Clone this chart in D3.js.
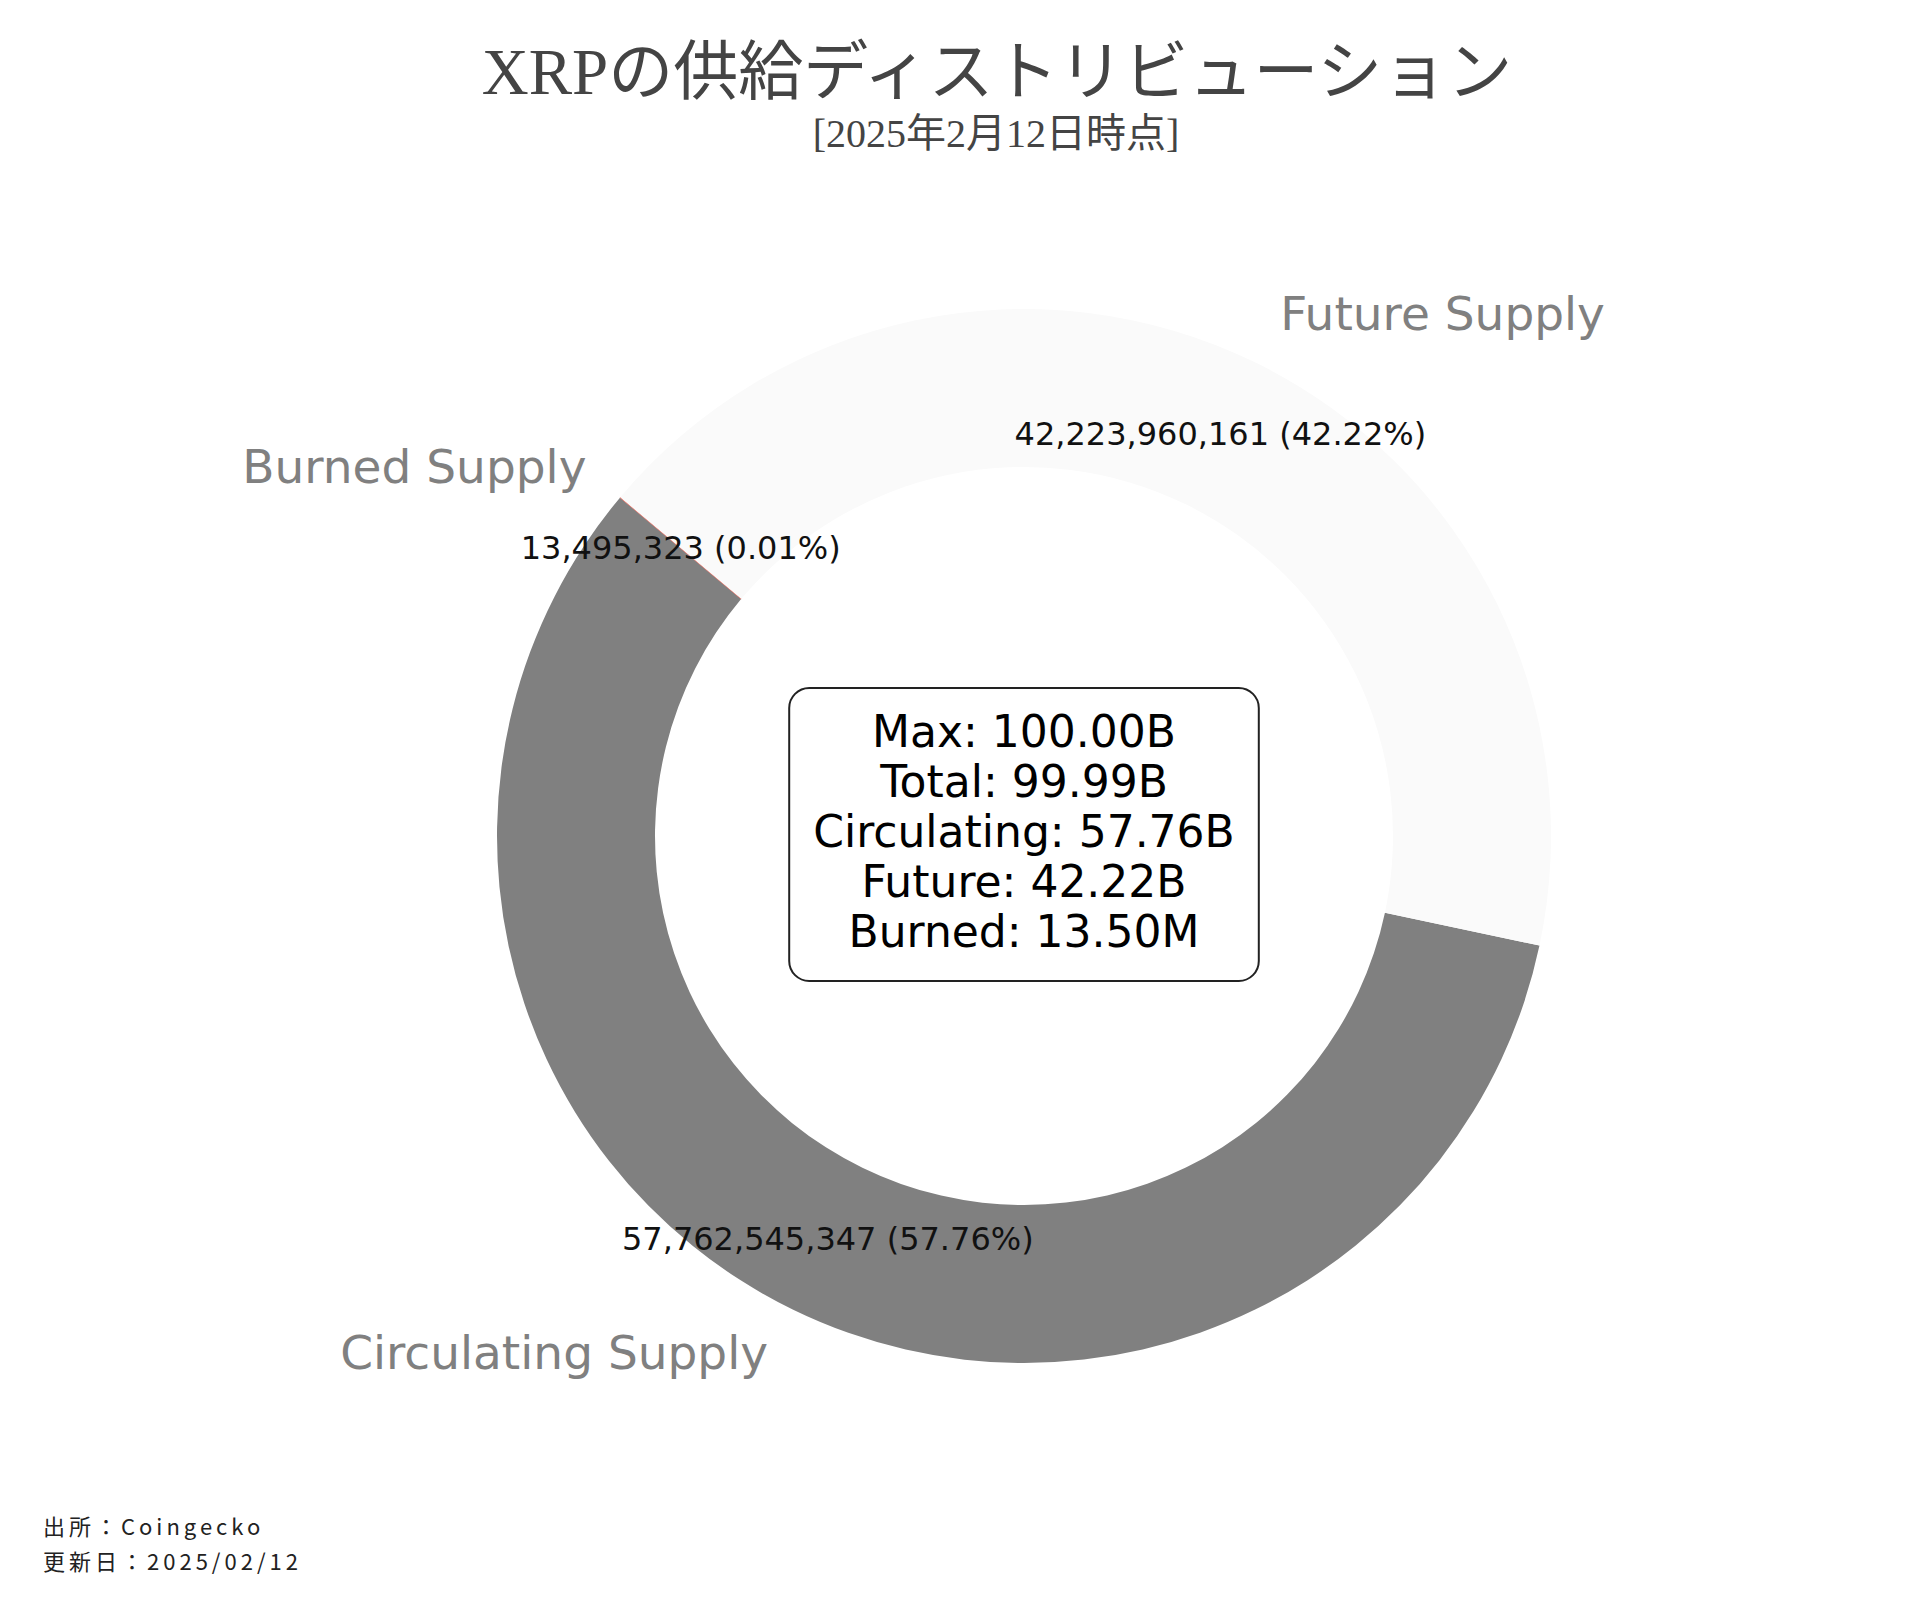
<!DOCTYPE html>
<html>
<head>
<meta charset="utf-8">
<script src="https://cdn.jsdelivr.net/npm/d3@7"></script>
<style>
  body { margin: 0; background: #fff; }
</style>
</head>
<body>
<div id="chart"></div>
<script>
// data
const categories = ["Circulating Supply", "Burned Supply", "Future Supply"];
const supplyValues = [57762545347, 13495323, 42223960161];
const summaryNames = ["Max", "Total", "Circulating", "Future", "Burned"];
const summaryValues = [100000000000, 99986505508, 57762545347, 42223960161, 13495323];
const titleText = "XRPの供給ディストリビューション";
const subtitleText = "[2025年2月12日時点]";
const footerLines = ["出所：Coingecko", "更新日：2025/02/12"];

// layout
const width = 1920, height = 1600;
const cx = 1024, cy = 836;
const outerR = 527, innerR = 369, nameR = 553;
const startDeg = 102;
const sansFont = "'DejaVu Sans', sans-serif";

let svg = d3.select("#chart")
    .append("svg")
    .attr("width", width)
    .attr("height", height)
    .style("background", "#fff");

let color = d3.scaleOrdinal()
    .domain(categories)
    .range(["#808080", "#e8675a", "#fafafa"]);

let data = categories.map((c, i) => ({ name: c, value: supplyValues[i] }));
let sum = d3.sum(supplyValues);

let pie = d3.pie()
    .sort(null)
    .value(d => d.value)
    .startAngle(startDeg * Math.PI / 180)
    .endAngle(startDeg * Math.PI / 180 + 2 * Math.PI);

let arc = d3.arc().innerRadius(innerR).outerRadius(outerR);

let arcs = pie(data);

let g = svg.append("g").attr("transform", "translate(" + cx + "," + cy + ")");

// slices
g.selectAll(".slice")
    .data(arcs)
    .enter()
    .append("path")
    .attr("class", "slice")
    .attr("d", arc)
    .attr("fill", d => color(d.data.name))
    .attr("stroke", d => d.data.name === "Burned Supply" ? color(d.data.name) : "none")
    .attr("stroke-width", 0.4);

// value labels on the ring
let fmtInt = d3.format(",");
g.selectAll(".vlabel")
    .data(arcs)
    .enter()
    .append("text")
    .attr("class", "vlabel")
    .attr("x", d => arc.centroid(d)[0])
    .attr("y", d => arc.centroid(d)[1])
    .attr("dy", "0.35em")
    .attr("text-anchor", "middle")
    .style("font-family", sansFont)
    .style("font-size", "32px")
    .style("fill", "#111")
    .text(d => fmtInt(d.data.value) + " (" + (d.data.value / sum * 100).toFixed(2) + "%)");

// category names outside (plotly style outside text placement)
g.selectAll(".nlabel")
    .data(arcs)
    .enter()
    .append("text")
    .attr("class", "nlabel")
    .attr("text-anchor", "middle")
    .attr("dy", "0.28em")
    .style("font-family", sansFont)
    .style("font-size", "47px")
    .style("fill", "#808080")
    .text(d => d.data.name)
    .each(function (d) {
        let mid = (d.startAngle + d.endAngle) / 2;
        let x = nameR * Math.sin(mid);
        let y = -nameR * Math.cos(mid);
        let bb = this.getBBox();
        let dx = bb.width / 2, dy = bb.height / 2;
        if (x < 0) dx *= -1;
        if (y < 0) dy *= -1;
        let ox = dx + Math.abs(dy) * (dx > 0 ? 1 : -1) / 2;
        let oy = dy / (1 + x * x / (y * y));
        d3.select(this).attr("x", x + ox).attr("y", y + oy);
    });

// summary box in the hole
let fmtShort = v => v >= 1e9 ? (v / 1e9).toFixed(2) + "B" : (v / 1e6).toFixed(2) + "M";
let box = g.append("g");
let boxRect = box.append("rect");
let boxText = box.append("text")
    .attr("text-anchor", "middle")
    .style("font-family", sansFont)
    .style("font-size", "44px")
    .style("fill", "#000");
boxText.selectAll("tspan")
    .data(summaryNames)
    .enter()
    .append("tspan")
    .attr("x", 0)
    .attr("y", (d, i) => (i - 2) * 50 + 11)
    .text((d, i) => d + ": " + fmtShort(summaryValues[i]));

let tb = boxText.node().getBBox();
boxRect
    .attr("x", tb.x - 24)
    .attr("y", tb.y - 18)
    .attr("width", tb.width + 48)
    .attr("height", tb.height + 42)
    .attr("rx", 20)
    .attr("fill", "#fff")
    .attr("stroke", "#222")
    .attr("stroke-width", 2);

// title
svg.append("text")
    .attr("x", 997)
    .attr("y", 94)
    .attr("text-anchor", "middle")
    .style("font-family", "'Liberation Serif', 'Noto Sans CJK JP', serif")
    .style("font-size", "65px")
    .style("fill", "#444")
    .text(titleText);

svg.append("text")
    .attr("x", 996)
    .attr("y", 147)
    .attr("text-anchor", "middle")
    .style("font-family", "'Liberation Serif', 'Noto Sans CJK JP', serif")
    .style("font-size", "40px")
    .style("fill", "#444")
    .text(subtitleText);

// footer
svg.selectAll(".footer")
    .data(footerLines)
    .enter()
    .append("text")
    .attr("class", "footer")
    .attr("x", 43)
    .attr("y", (d, i) => 1535 + i * 35)
    .style("font-family", "'Noto Sans CJK JP', sans-serif")
    .style("font-size", "22px")
    .style("letter-spacing", "4px")
    .style("fill", "#222")
    .text(d => d);
</script>
</body>
</html>
